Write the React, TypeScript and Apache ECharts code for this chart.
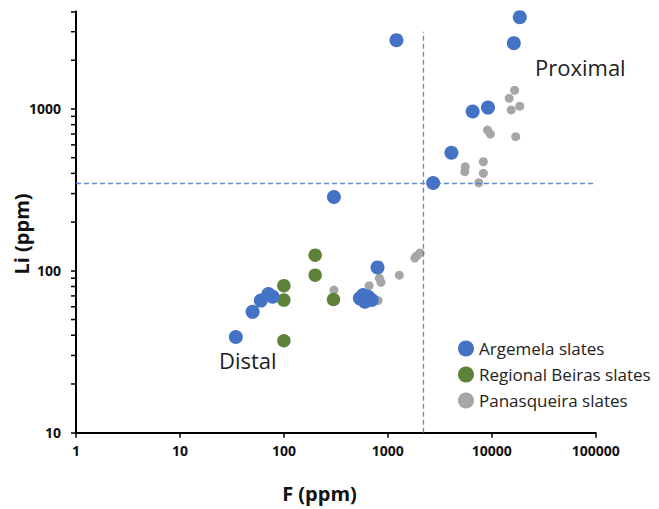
import React, { useEffect, useRef } from "react";
import * as echarts from "echarts";

// Argemela slates (blue)
const argemelaF = [18600, 16300, 1210, 6550, 9200, 4090, 2730, 303, 34.5, 50, 60, 71, 78, 796, 538, 578, 647, 601, 700];
const argemelaLi = [3690, 2550, 2660, 965, 1020, 536, 349, 286, 39, 55.8, 65.5, 71.8, 69.2, 105, 67.6, 70.8, 69.2, 64.4, 66];

// Regional Beiras slates (green)
const beirasF = [200, 200, 100, 100, 100, 300];
const beirasLi = [125, 94, 81, 66, 37, 66.5];

// Panasqueira slates (gray)
const panasF = [16600, 14700, 18600, 15400, 9100, 9700, 17000, 8300, 5500, 5550, 8300, 7500, 1820, 1900, 2040, 1290, 830, 860, 806, 661, 303];
const panasLi = [1305, 1164, 1040, 986, 740, 700, 674, 472, 410, 440, 400, 350, 120, 124, 129, 94, 90, 85, 65.5, 81, 76];

// Thresholds (dashed lines)
const fThreshold = 2200;
const liThreshold = 350;
const fLineTop = 3000;

// Axes
const xMin = 1;
const xMax = 100000;
const yMin = 10;
const yMax = 4000;
const yLabels = [10, 100, 1000];
const minorMultipliers = [2, 3, 4, 5, 6, 7, 8, 9];
const minorDecades = [10, 100, 1000];

const seriesNames = ["Argemela slates", "Regional Beiras slates", "Panasqueira slates"];
const colors = { blue: "#4472C4", green: "#5E823A", gray: "#A6A6A6" };

const zip = (a: number[], b: number[]) => a.map((v, i) => [v, b[i]]);

export default function App() {
  const ref = useRef<HTMLDivElement>(null);
  useEffect(() => {
    if (!ref.current) return;
    const chart = echarts.init(ref.current, null, { renderer: "svg" });
    const minorTicks: number[][] = [];
    minorDecades.forEach((d) =>
      minorMultipliers.forEach((m) => {
        const v = m * d;
        if (v < yMax) minorTicks.push([xMin, v]);
      })
    );
    const font = "'Open Sans', sans-serif";
    chart.setOption({
      animation: false,
      grid: { left: 76, top: 11.5, width: 519.7, height: 421.2, containLabel: false },
      xAxis: {
        type: "log",
        logBase: 10,
        min: xMin,
        max: xMax,
        axisLine: { show: true, lineStyle: { color: "#000", width: 2 } },
        axisTick: { show: true, length: 5, lineStyle: { color: "#000", width: 1.5 } },
        splitLine: { show: false },
        axisLabel: {
          margin: 11,
          color: "#111",
          fontWeight: "bold",
          fontSize: 14,
          fontFamily: font,
          formatter: (v: number) => String(Math.round(v)),
        },
      },
      yAxis: {
        type: "log",
        logBase: 10,
        min: yMin,
        max: yMax,
        axisLine: { show: true, lineStyle: { color: "#000", width: 2 } },
        axisTick: { show: true, length: 5, lineStyle: { color: "#000", width: 1.5 } },
        splitLine: { show: false },
        axisLabel: {
          margin: 15,
          color: "#111",
          fontWeight: "bold",
          fontSize: 14,
          fontFamily: font,
          formatter: (v: number) => (yLabels.includes(Math.round(v)) ? String(Math.round(v)) : ""),
        },
      },
      legend: {
        orient: "vertical",
        left: 453,
        top: 335,
        data: [
          { name: seriesNames[0] },
          { name: seriesNames[1] },
          { name: seriesNames[2] },
        ],
        icon: "circle",
        itemWidth: 16,
        itemHeight: 16,
        itemGap: 9,
        textStyle: { fontSize: 17, fontFamily: font, color: "#222", lineHeight: 17 },
      },
      graphic: [
        {
          type: "text",
          left: 535,
          top: 56,
          style: { text: "Proximal", fontSize: 22, fontFamily: font, fill: "#222" },
        },
        {
          type: "text",
          left: 219,
          top: 349,
          style: { text: "Distal", fontSize: 22, fontFamily: font, fill: "#222" },
        },
        {
          type: "text",
          x: 21.5,
          y: 234,
          rotation: Math.PI / 2,
          style: {
            text: "Li (ppm)",
            fontSize: 20,
            fontWeight: "bold",
            fontFamily: font,
            fill: "#111",
            align: "center",
            verticalAlign: "middle",
          },
        },
        {
          type: "text",
          x: 319.5,
          y: 493,
          style: {
            text: "F (ppm)",
            fontSize: 20,
            fontWeight: "bold",
            fontFamily: font,
            fill: "#111",
            align: "center",
            verticalAlign: "middle",
          },
        },
      ],
      series: [
        {
          type: "custom",
          name: "minorTicks",
          data: minorTicks,
          silent: true,
          clip: false,
          z: 1,
          renderItem: (params: any, api: any) => {
            const p = api.coord([api.value(0), api.value(1)]);
            return {
              type: "line",
              shape: { x1: p[0] - 5, y1: p[1], x2: p[0], y2: p[1] },
              style: { stroke: "#000", lineWidth: 1.5 },
            };
          },
        },
        {
          type: "scatter",
          name: seriesNames[2],
          data: zip(panasF, panasLi),
          symbolSize: 9,
          itemStyle: { color: colors.gray, opacity: 1 },
          z: 2,
          markLine: {
            silent: true,
            symbol: "none",
            label: { show: false },
            lineStyle: { color: "#4F7CC9", type: [5, 3], width: 1.3, opacity: 0.9 },
            data: [
              [{ coord: [fThreshold, yMin] }, { coord: [fThreshold, fLineTop] }],
              [{ coord: [xMin, liThreshold] }, { coord: [xMax, liThreshold] }],
            ],
          },
        },
        {
          type: "scatter",
          name: seriesNames[1],
          data: zip(beirasF, beirasLi),
          symbolSize: 13.5,
          itemStyle: { color: colors.green, opacity: 1 },
          z: 3,
        },
        {
          type: "scatter",
          name: seriesNames[0],
          data: zip(argemelaF, argemelaLi),
          symbolSize: 14,
          itemStyle: { color: colors.blue, opacity: 1 },
          z: 4,
        },
      ],
    });
    return () => chart.dispose();
  }, []);
  return <div ref={ref} style={{ position: "absolute", left: 0, top: 0, width: 659, height: 509 }} />;
}
